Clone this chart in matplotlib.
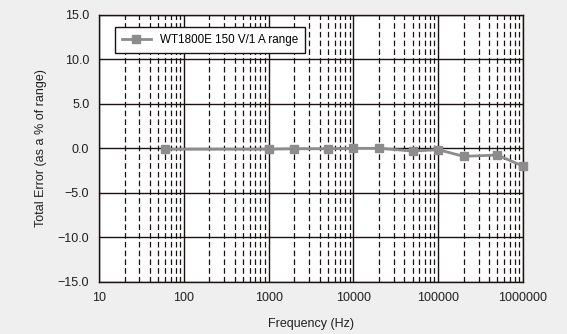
import matplotlib.pyplot as plt
from matplotlib.ticker import LogLocator, FixedLocator, NullFormatter

# Data
freq_hz = [60, 1000, 2000, 5000, 10000, 20000, 50000, 100000, 200000, 500000, 1000000]
total_error = [-0.1, -0.1, -0.05, -0.05, 0.0, 0.0, -0.3, -0.15, -0.9, -0.75, -2.0]
series_name = "WT1800E 150 V/1 A range"
x_ticks = [10, 100, 1000, 10000, 100000, 1000000]
y_ticks = [-15, -10, -5, 0, 5, 10, 15]

plt.rcParams['font.family'] = ['Liberation Sans', 'DejaVu Sans']

fig = plt.figure(figsize=(5.67, 3.34), dpi=100, facecolor='#eeefee')
ax = fig.add_axes([0.1746, 0.1557, 0.9224 - 0.1746, 0.956 - 0.1557])
ax.set_facecolor('white')

ax.plot(freq_hz, total_error, color='#8c8c8c', linewidth=2, marker='s',
        markersize=5.5, markerfacecolor='#8c8c8c', markeredgecolor='#8c8c8c',
        label=series_name, zorder=3, clip_on=False)

ax.set_xscale('log')
ax.set_xlim(10, 1000000)
ax.set_ylim(-15, 15)
ax.xaxis.set_major_locator(FixedLocator(x_ticks))
ax.set_xticklabels([str(t) for t in x_ticks])
ax.xaxis.set_minor_locator(LogLocator(base=10, subs=range(2, 10), numticks=20))
ax.xaxis.set_minor_formatter(NullFormatter())
ax.set_yticks(y_ticks)
ax.set_yticklabels([f"{t:.1f}".replace('-', '\u2212') for t in y_ticks])

ax.grid(True, which='major', color='#1a1212', linewidth=1.0, linestyle='-')
ax.grid(True, which='minor', axis='x', color='#1a1212', linewidth=0.9,
        linestyle=(0, (4.5, 2.5)))
ax.tick_params(which='both', length=0, labelsize=9, colors='#231f20', pad=7)

for s in ax.spines.values():
    s.set_color('#1a1212')
    s.set_linewidth(1.0)

ax.set_xlabel('Frequency (Hz)', fontsize=9, color='#231f20', labelpad=10)
ax.set_ylabel('Total Error (as a % of range)', fontsize=9, color='#231f20', labelpad=8)

leg = ax.legend(loc='upper left', bbox_to_anchor=(0.037, 0.955), fontsize=8.4,
                frameon=True, fancybox=False, framealpha=1, edgecolor='#1a1212',
                borderpad=0.6, handlelength=2.5, borderaxespad=0)
leg.get_frame().set_linewidth(1.0)

fig.savefig('out.png', dpi=100, facecolor=fig.get_facecolor())
